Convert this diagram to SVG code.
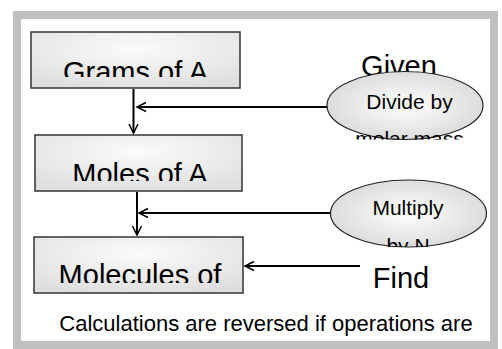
<svg xmlns="http://www.w3.org/2000/svg" width="502" height="349" viewBox="0 0 502 349">
<defs>
<radialGradient id="boxFill" cx="50%" cy="30%" r="75%">
<stop offset="0" stop-color="#fbfbfb"/>
<stop offset="1" stop-color="#dedede"/>
</radialGradient>
<radialGradient id="ellFill" cx="50%" cy="50%" r="55%">
<stop offset="0" stop-color="#ffffff"/>
<stop offset="1" stop-color="#d9d9d9"/>
</radialGradient>
<marker id="arr" markerUnits="userSpaceOnUse" markerWidth="12" markerHeight="12" viewBox="-1 -1 12 12" refX="9" refY="4.5" orient="auto">
<path d="M0,0 L9,4.5 L0,9" fill="none" stroke="#000" stroke-width="1.5"/>
</marker>
<clipPath id="clipT1"><rect x="31" y="32" width="209" height="45"/></clipPath>
<clipPath id="clipT2"><rect x="35" y="135" width="207" height="46"/></clipPath>
<clipPath id="clipT3"><rect x="34" y="237" width="209" height="46"/></clipPath>
<clipPath id="clipE1"><rect x="320" y="70" width="170" height="69.5"/></clipPath>
<clipPath id="clipE2"><rect x="320" y="178" width="175" height="69"/></clipPath>
</defs>
<style>
.frame{fill:#fff;stroke:#c0c0c0;stroke-width:8}
.box{fill:url(#boxFill);stroke:#333;stroke-width:1.5}
.ell{fill:url(#ellFill);stroke:#222;stroke-width:1.2}
.t{font-family:"Liberation Sans",Arial,sans-serif;fill:#000;text-anchor:middle}
.big{font-size:29px}
.mid{font-size:21px}
.cap{font-size:22px}
.conn{stroke:#000;stroke-width:2;fill:none;marker-end:url(#arr)}
</style>
<rect class="frame" x="17" y="15" width="477" height="330"/>
<g id="given">
<text class="t big" x="399" y="76">Given</text>
</g>
<g id="grams">
<rect class="box" x="31" y="32" width="209" height="56"/>
<text class="t big" x="135.5" y="82" clip-path="url(#clipT1)">Grams of A</text>
</g>
<g id="moles">
<rect class="box" x="35" y="135" width="207" height="56"/>
<text class="t big" x="140" y="184" clip-path="url(#clipT2)">Moles of A</text>
</g>
<g id="molecules">
<rect class="box" x="34" y="237" width="209" height="56"/>
<text class="t big" x="140" y="285" clip-path="url(#clipT3)">Molecules of</text>
</g>
<g id="divide">
<ellipse class="ell" cx="405" cy="105.5" rx="78" ry="34"/>
<g clip-path="url(#clipE1)">
<text class="t mid" x="409.5" y="108.5">Divide by</text>
<text class="t mid" x="409.5" y="146">molar mass</text>
</g>
</g>
<g id="multiply">
<ellipse class="ell" cx="408.5" cy="213.5" rx="78" ry="33.5"/>
<g clip-path="url(#clipE2)">
<text class="t mid" x="408" y="215">Multiply</text>
<text class="t mid" x="408" y="253">by N</text>
</g>
</g>
<g id="find">
<text class="t big" x="401" y="288">Find</text>
</g>
<g id="caption">
<text class="t cap" x="266" y="331">Calculations are reversed if operations are</text>
</g>
<g id="connectors">
<line class="conn" x1="133.5" y1="89" x2="133.5" y2="133"/>
<line class="conn" x1="137" y1="192" x2="137" y2="235"/>
<line class="conn" x1="327" y1="107" x2="137" y2="107"/>
<line class="conn" x1="330" y1="213" x2="139" y2="213"/>
<line class="conn" x1="360" y1="266" x2="245" y2="266"/>
</g>
</svg>
